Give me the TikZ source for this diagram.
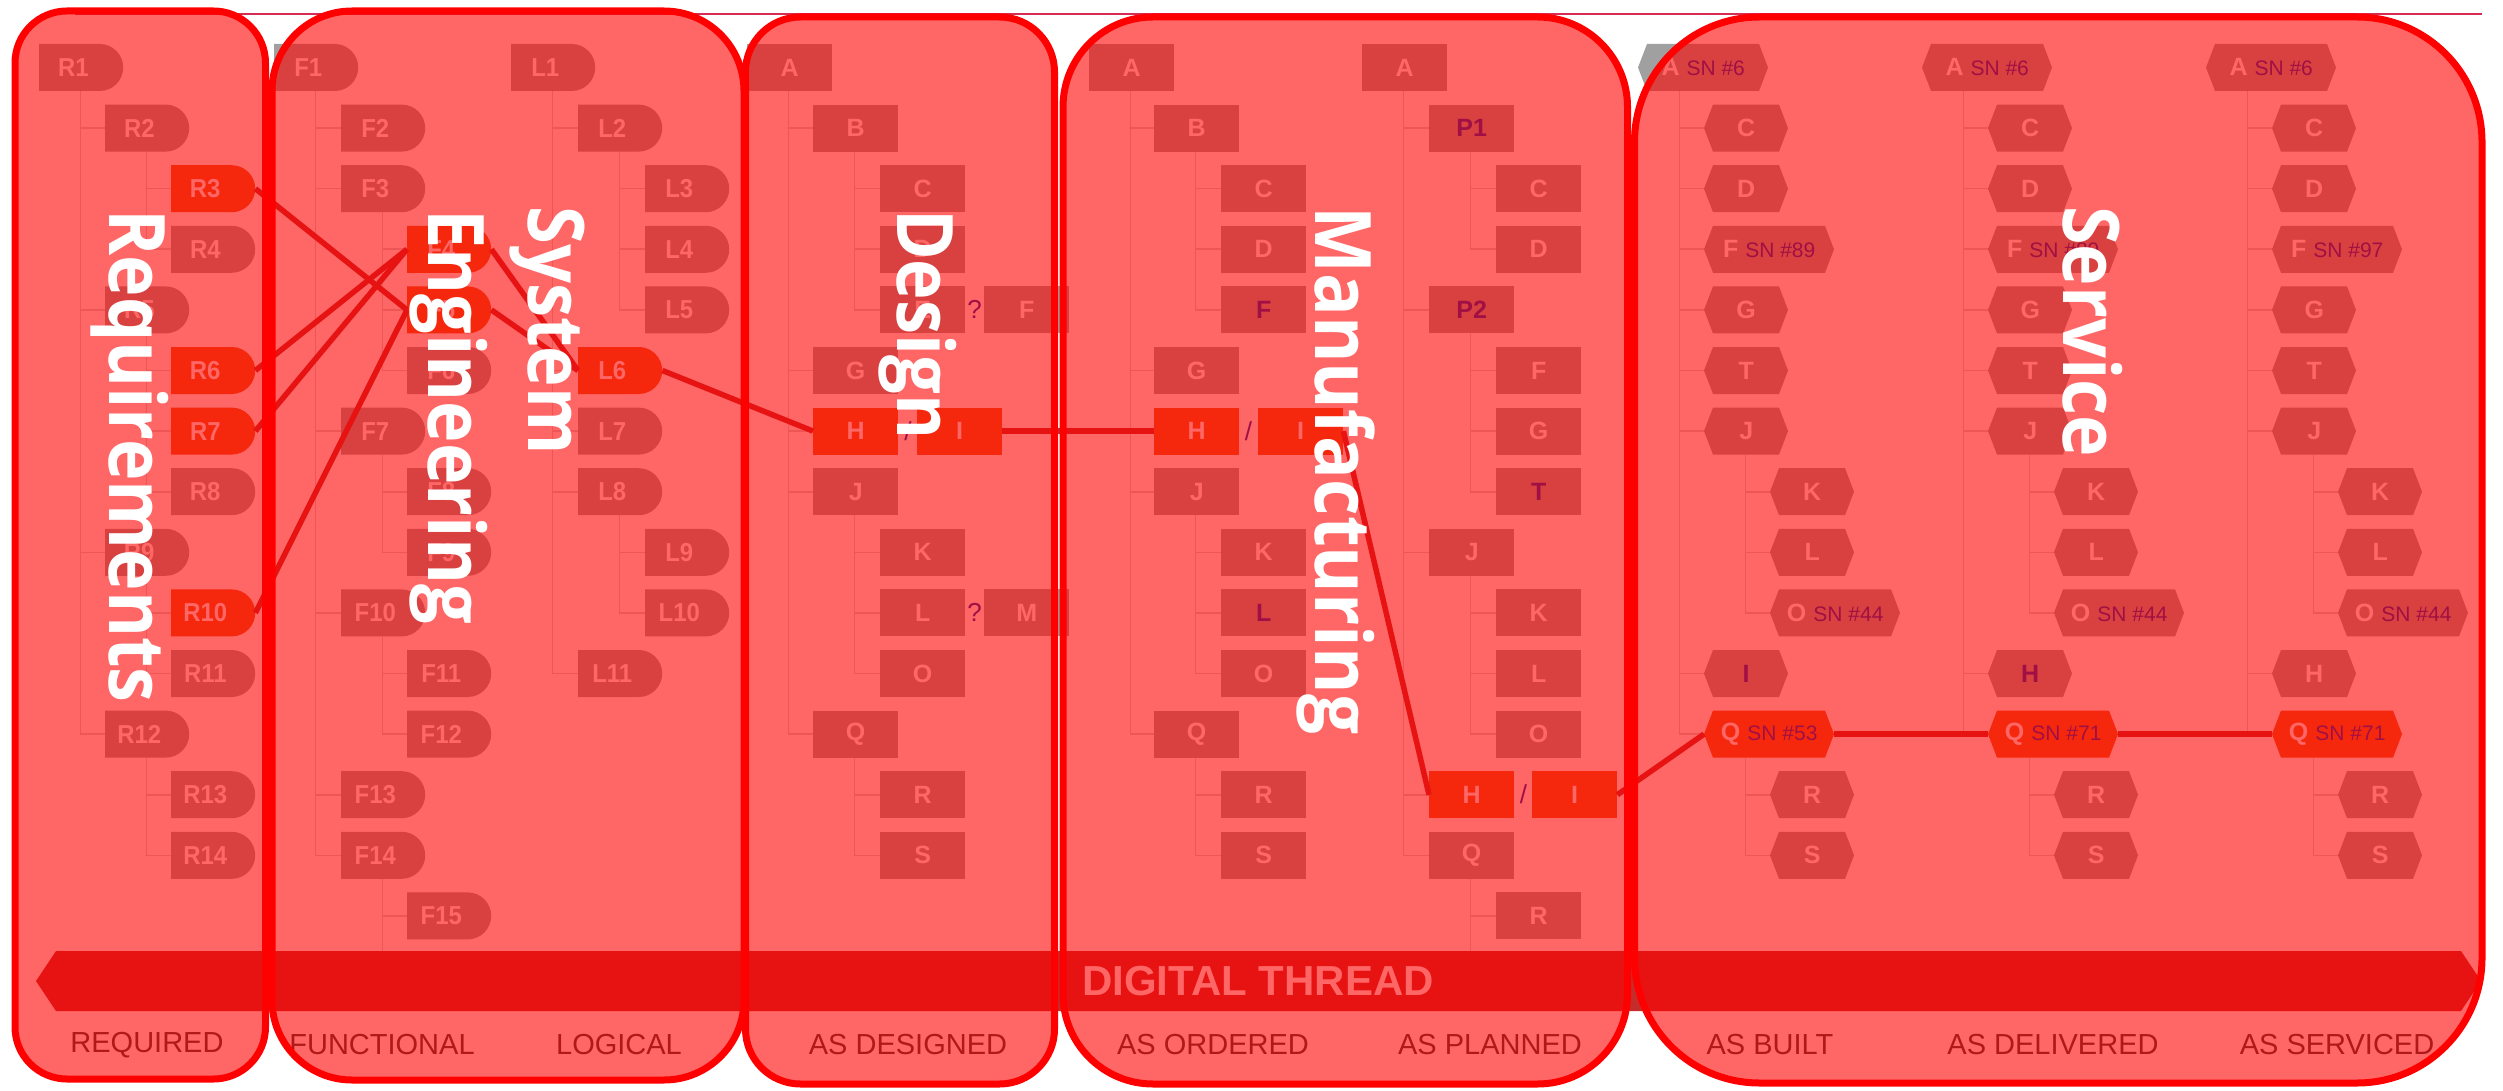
\documentclass[tikz,border=0pt]{standalone}
\usepackage{graphicx}
\usepackage{fontspec}
\setmainfont{Liberation Sans}
\newfontfamily\ovfont{Open Sans}
\newfontfamily\narrowfont[FakeStretch=0.92]{Liberation Sans}
\usetikzlibrary{shapes.misc}
\definecolor{nodegray}{RGB}{160,160,160}
\definecolor{hilite}{RGB}{230,100,37}
\definecolor{linkc}{RGB}{195,48,48}
\definecolor{treec}{RGB}{214,214,214}
\definecolor{chgtext}{RGB}{20,40,170}
\definecolor{labtext}{RGB}{60,60,60}
\definecolor{bandc}{RGB}{197,45,45}
\definecolor{toplinec}{RGB}{215,45,85}
\tikzset{
  nb/.style={inner sep=0pt, minimum height=47pt, text=white, font=\bfseries\fontsize{25}{25}\selectfont},
  dsh/.style={nb, rounded rectangle, rounded rectangle left arc=none, minimum width=84pt, fill=nodegray, font=\narrowfont\bfseries\fontsize{26}{26}\selectfont},
  rbox/.style={nb, rectangle, minimum width=85pt, fill=nodegray},
  hbox/.style={nb, rectangle},
  hl/.style={fill=hilite},
  chg/.style={text=chgtext},
  tree/.style={draw=treec, line width=1.6pt},
  link/.style={draw=linkc, line width=5.5pt},
  ovbox/.style={draw=red, line width=7pt, fill=red, fill opacity=0.6},
  ovlab/.style={text=white, inner sep=0pt, rotate=-90, anchor=base west, font=\ovfont\bfseries\fontsize{78}{78}\selectfont},
  collab/.style={text=labtext, inner sep=0pt, font=\mdseries\fontsize{29}{29}\selectfont},
  sepmark/.style={text=chgtext, inner sep=0pt, font=\mdseries\fontsize{26}{26}\selectfont},
}
\newcommand\RY[1]{(67.5+(#1-1)*60.6)}
\newcommand\Dn[5][]{\node[dsh,anchor=west,#1] (#2) at (#3,{\RY{#4}}) {#5\hspace*{14pt}};}
\newcommand\Rn[5][]{\node[rbox,anchor=west,#1] (#2) at (#3,{\RY{#4}}) {#5};}
\newcommand\Hx[6][nodegray]{%
  \pgfmathsetmacro\hy{\RY{#4}}%
  \pgfmathsetmacro\hr{#3+#5}%
  \fill[#1] (#3,\hy) -- ({#3+9},{\hy-23.5}) -- ({\hr-9},{\hy-23.5}) -- (\hr,\hy) -- ({\hr-9},{\hy+23.5}) -- ({#3+9},{\hy+23.5}) -- cycle;
  \node[hbox, anchor=west, minimum width=#5pt] (#2) at (#3,\hy) {#6};}
\newcommand\SN[1]{\hspace{7pt}{\mdseries\fontsize{21}{21}\selectfont\color{chgtext}SN \##1}}
\newcommand\Tr[2]{\foreach \c in {#2}{\draw[tree] ([xshift=41.5pt,yshift=-23.5pt]#1.west) |- (\c.west);}}
\newcommand\Svc[5]{%
  \pgfmathsetmacro\xa{#2}\pgfmathsetmacro\xb{#2+66}\pgfmathsetmacro\xc{#2+132}%
  \Hx{#1A}{\xa}{1}{130}{A\SN{6}\hspace{8pt}}
  \Hx{#1C}{\xb}{2}{84}{C}
  \Hx{#1D}{\xb}{3}{84}{D}
  \Hx{#1F}{\xb}{4}{130}{F\SN{#3}\hspace{8pt}}
  \Hx{#1G}{\xb}{5}{84}{G}
  \Hx{#1T}{\xb}{6}{84}{T}
  \Hx{#1J}{\xb}{7}{84}{J}
  \Hx{#1K}{\xc}{8}{84}{K}
  \Hx{#1L}{\xc}{9}{84}{L}
  \Hx{#1O}{\xc}{10}{130}{O\SN{44}\hspace{8pt}}
  \Hx{#1I}{\xb}{11}{84}{#4}
  \Hx[hilite]{#1Q}{\xb}{12}{130}{Q\SN{#5}\hspace{8pt}}
  \Hx{#1R}{\xc}{13}{84}{R}
  \Hx{#1S}{\xc}{14}{84}{S}
  \Tr{#1A}{#1C,#1D,#1F,#1G,#1T,#1J,#1I,#1Q}
  \Tr{#1J}{#1K,#1L,#1O}
  \Tr{#1Q}{#1R,#1S}
}
\begin{document}
\begin{tikzpicture}[x=1pt,y=-1pt]
\fill[white] (0,0) rectangle (2503,1091);
\useasboundingbox (0,0) rectangle (2503,1091);
% ---------------- REQUIRED
\Dn{R1}{39}{1}{R1}
\Dn{R2}{105}{2}{R2}
\Dn[hl]{R3}{171}{3}{R3}
\Dn{R4}{171}{4}{R4}
\Dn{R5}{105}{5}{R5}
\Dn[hl]{R6}{171}{6}{R6}
\Dn[hl]{R7}{171}{7}{R7}
\Dn{R8}{171}{8}{R8}
\Dn{R9}{105}{9}{R9}
\Dn[hl]{R10}{171}{10}{R10}
\Dn{R11}{171}{11}{R11}
\Dn{R12}{105}{12}{R12}
\Dn{R13}{171}{13}{R13}
\Dn{R14}{171}{14}{R14}
\Tr{R1}{R2,R5,R9,R12}
\Tr{R2}{R3,R4}
\Tr{R5}{R6,R7,R8}
\Tr{R9}{R10,R11}
\Tr{R12}{R13,R14}
% ---------------- FUNCTIONAL
\Dn{F1}{274}{1}{F1}
\Dn{F2}{341}{2}{F2}
\Dn{F3}{341}{3}{F3}
\Dn[hl]{F4}{407}{4}{F4}
\Dn[hl]{F5}{407}{5}{F5}
\Dn{F6}{407}{6}{F6}
\Dn{F7}{341}{7}{F7}
\Dn{F8}{407}{8}{F8}
\Dn{F9}{407}{9}{F9}
\Dn{F10}{341}{10}{F10}
\Dn{F11}{407}{11}{F11}
\Dn{F12}{407}{12}{F12}
\Dn{F13}{341}{13}{F13}
\Dn{F14}{341}{14}{F14}
\Dn{F15}{407}{15}{F15}
\Tr{F1}{F2,F3,F7,F10,F13,F14}
\Tr{F3}{F4,F5,F6}
\Tr{F7}{F8,F9}
\Tr{F10}{F11,F12}
\Tr{F14}{F15}
\coordinate (f14end) at (382.5,955);
\draw[tree] ([xshift=41.5pt,yshift=-23.5pt]F14.west) -- (f14end);
% ---------------- LOGICAL
\Dn{L1}{511}{1}{L1}
\Dn{L2}{578}{2}{L2}
\Dn{L3}{645}{3}{L3}
\Dn{L4}{645}{4}{L4}
\Dn{L5}{645}{5}{L5}
\Dn[hl]{L6}{578}{6}{L6}
\Dn{L7}{578}{7}{L7}
\Dn{L8}{578}{8}{L8}
\Dn{L9}{645}{9}{L9}
\Dn{L10}{645}{10}{L10}
\Dn{L11}{578}{11}{L11}
\Tr{L1}{L2,L6,L7,L8,L11}
\Tr{L2}{L3,L4,L5}
\Tr{L8}{L9,L10}
% ---------------- AS DESIGNED
\Rn{dA}{747}{1}{A}
\Rn{dB}{813}{2}{B}
\Rn{dC}{880}{3}{C}
\Rn{dD}{880}{4}{D}
\Rn{dE}{880}{5}{E}
\node[sepmark] (dq1) at (974.5,{\RY{5}}) {?};
\Rn{dF}{984}{5}{F}
\Rn{dG}{813}{6}{G}
\Rn[hl]{dH}{813}{7}{H}
\node[sepmark] (ds1) at (908,{\RY{7}}) {/};
\Rn[hl]{dI}{917}{7}{I}
\Rn{dJ}{813}{8}{J}
\Rn{dK}{880}{9}{K}
\Rn{dL}{880}{10}{L}
\node[sepmark] (dq2) at (974.5,{\RY{10}}) {?};
\Rn{dM}{984}{10}{M}
\Rn{dO}{880}{11}{O}
\Rn{dQ}{813}{12}{Q}
\Rn{dR}{880}{13}{R}
\Rn{dS}{880}{14}{S}
\Tr{dA}{dB,dG,dH,dJ,dQ}
\Tr{dB}{dC,dD,dE}
\Tr{dJ}{dK,dL,dO}
\Tr{dQ}{dR,dS}
% ---------------- AS ORDERED
\Rn{oA}{1089}{1}{A}
\Rn{oB}{1154}{2}{B}
\Rn{oC}{1221}{3}{C}
\Rn{oD}{1221}{4}{D}
\Rn[chg]{oF}{1221}{5}{F}
\Rn{oG}{1154}{6}{G}
\Rn[hl]{oH}{1154}{7}{H}
\node[sepmark] (os1) at (1248.5,{\RY{7}}) {/};
\Rn[hl]{oI}{1258}{7}{I}
\Rn{oJ}{1154}{8}{J}
\Rn{oK}{1221}{9}{K}
\Rn[chg]{oL}{1221}{10}{L}
\Rn{oO}{1221}{11}{O}
\Rn{oQ}{1154}{12}{Q}
\Rn{oR}{1221}{13}{R}
\Rn{oS}{1221}{14}{S}
\Tr{oA}{oB,oG,oH,oJ,oQ}
\Tr{oB}{oC,oD,oF}
\Tr{oJ}{oK,oL,oO}
\Tr{oQ}{oR,oS}
% ---------------- AS PLANNED
\Rn{pA}{1362}{1}{A}
\Rn[chg]{pP1}{1429}{2}{P1}
\Rn{pC}{1496}{3}{C}
\Rn{pD}{1496}{4}{D}
\Rn[chg]{pP2}{1429}{5}{P2}
\Rn{pF}{1496}{6}{F}
\Rn{pG}{1496}{7}{G}
\Rn[chg]{pT}{1496}{8}{T}
\Rn{pJ}{1429}{9}{J}
\Rn{pK}{1496}{10}{K}
\Rn{pL}{1496}{11}{L}
\Rn{pO}{1496}{12}{O}
\Rn[hl]{pH}{1429}{13}{H}
\node[sepmark] (ps1) at (1523.5,{\RY{13}}) {/};
\Rn[hl]{pI}{1532}{13}{I}
\Rn{pQ}{1429}{14}{Q}
\Rn{pR}{1496}{15}{R}
\Tr{pA}{pP1,pP2,pJ,pH,pQ}
\Tr{pP1}{pC,pD}
\Tr{pP2}{pF,pG,pT}
\Tr{pJ}{pK,pL,pO}
\Tr{pQ}{pR}
\coordinate (pqend) at (1470.5,955);
\draw[tree] ([xshift=41.5pt,yshift=-23.5pt]pQ.west) -- (pqend);
% ---------------- AS BUILT / DELIVERED / SERVICED
\Svc{b}{1638}{89}{\color{chgtext}I}{53}
\Svc{v}{1922}{89}{\color{chgtext}H}{71}
\Svc{s}{2206}{97}{H}{71}
% ---------------- links
\draw[link] (R3.east) -- (F5.west);
\draw[link] (R6.east) -- (F4.west);
\draw[link] (R7.east) -- (F4.west);
\draw[link] (R10.east) -- (F5.west);
\draw[link] (F4.east) -- (L6.west);
\draw[link] (F5.east) -- (L6.west);
\draw[link] (L6.east) -- (dH.west);
\draw[link] (dI.east) -- (oH.west);
\draw[link] (oI.east) -- (pH.west);
\draw[link] (pI.east) -- (bQ.west);
\draw[link] (bQ.east) -- (vQ.west);
\draw[link] (vQ.east) -- (sQ.west);
% ---------------- digital thread band
\fill[bandc] (56,951) -- (2461,951) -- (2481,981) -- (2461,1011) -- (56,1011) -- (36,981) -- cycle;
\node[text=white, inner sep=0pt, font=\bfseries\fontsize{42}{42}\selectfont] (dt) at (1258,981) {DIGITAL THREAD};
% ---------------- column labels
\node[collab] (c1) at (147,1045) {REQUIRED};
\node[collab] (c2) at (382,1045) {FUNCTIONAL};
\node[collab] (c3) at (619,1045) {LOGICAL};
\node[collab] (c4) at (908,1045) {AS DESIGNED};
\node[collab] (c5) at (1213,1045) {AS ORDERED};
\node[collab] (c6) at (1490,1045) {AS PLANNED};
\node[collab] (c7) at (1770,1045) {AS BUILT};
\node[collab] (c8) at (2053,1045) {AS DELIVERED};
\node[collab] (c9) at (2337,1045) {AS SERVICED};
\draw[toplinec, line width=1.5pt] (75,14) -- (2482,14);
% ---------------- overlay boxes
\draw[ovbox, rounded corners=52pt] (15,11) rectangle (265.5,1079);
\draw[ovbox, rounded corners=80pt] (272,11) rectangle (744,1080);
\draw[ovbox, rounded corners=55pt] (745.5,17) rectangle (1054.5,1084);
\draw[ovbox, rounded corners=90pt] (1063,17) rectangle (1627.5,1084);
\draw[ovbox, rounded corners=125pt] (1634.5,17) rectangle (2482,1083);
% ---------------- overlay labels
\node[ovlab] (t1) at (109,209) {\scalebox{0.9}[1]{Requirements}};
\node[ovlab] (t2) at (528,206) {\scalebox{0.88}[1]{System}};
\node[ovlab] (t3) at (428,209) {\scalebox{0.9}[1]{Engineering}};
\node[ovlab] (t4) at (897,209) {\scalebox{0.88}[1]{Design}};
\node[ovlab] (t5) at (1315,206) {\scalebox{0.91}[1]{Manufacturing}};
\node[ovlab] (t6) at (2063,206) {\scalebox{0.9}[1]{Service}};
\end{tikzpicture}
\end{document}
